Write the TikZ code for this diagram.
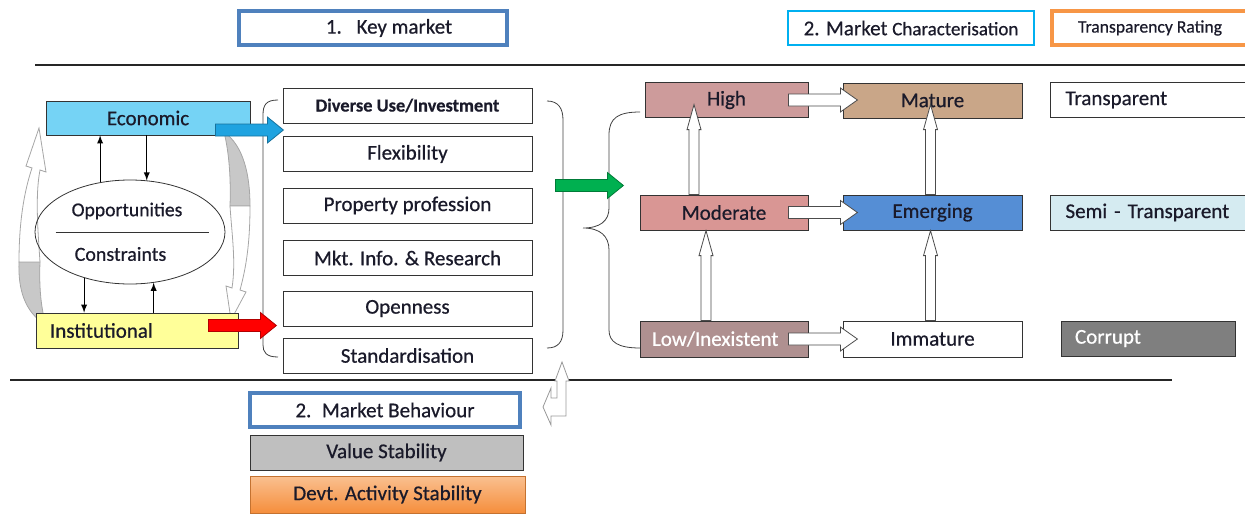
\documentclass[tikz,border=0pt]{standalone}
\usepackage{fontspec}
\setmainfont{Carlito}[FakeBold=0.6]
\usetikzlibrary{shapes.geometric}

\definecolor{keyblue}{HTML}{4F81BD}
\definecolor{charcyan}{HTML}{00B0F0}
\definecolor{rateorange}{HTML}{F79646}
\definecolor{ecofill}{HTML}{75D3F5}
\definecolor{instfill}{HTML}{FFFF99}
\definecolor{highfill}{HTML}{CD9B9B}
\definecolor{maturefill}{HTML}{C9A688}
\definecolor{modfill}{HTML}{D99694}
\definecolor{emergfill}{HTML}{558ED5}
\definecolor{lowfill}{HTML}{AF9090}
\definecolor{semifill}{HTML}{D5EBF1}
\definecolor{corrfill}{HTML}{7F7F7F}
\definecolor{valfill}{HTML}{BFBFBF}
\definecolor{devttop}{HTML}{FAC090}
\definecolor{devtbot}{HTML}{F58E3C}
\definecolor{ribbon}{HTML}{C8C8C8}
\definecolor{arrblue}{HTML}{1FA3E0}
\definecolor{arrgreen}{HTML}{00B050}
\definecolor{ink}{HTML}{1A1A2A}

\tikzset{
  base/.style={draw=black!80, inner sep=0pt, minimum height=17.5pt, text=ink, font=\fontsize{10.5}{12}\selectfont},
  item/.style={base, minimum width=124.5pt},
  cell/.style={base, minimum width=89.5pt},
  rate/.style={base, text width=84.5pt, inner xsep=7.5pt, align=left},
  headbox/.style={draw=keyblue, line width=2pt, minimum height=17pt, inner sep=0pt, text=ink, font=\fontsize{10.5}{12}\selectfont},
  fatarrow/.pic={\path [pic actions] (0,-6) -- (52,-6) -- (52,-13) -- (68,0) -- (52,13) -- (52,6) -- (0,6) -- cycle;},
  hollowr/.pic={\path [pic actions] (0,-6) -- (52,-6) -- (52,-12) -- (69,0) -- (52,12) -- (52,6) -- (0,6) -- cycle;},
  hollowu/.pic={\path [pic actions] (-5,0) -- (-5,-65) -- (-7,-65) -- (0,-90) -- (7,-65) -- (5,-65) -- (5,0) -- cycle;},
}

\begin{document}
\begin{tikzpicture}[x=0.5pt,y=-0.5pt,>=latex]
    \useasboundingbox (0,0) rectangle (1245,514);
    % headings
    \node [headbox, minimum width=134pt] (key) at (373,28) {\hspace*{16pt}1.\hspace{0.7em}Key market};
    \node [headbox, draw=charcyan, line width=1pt, minimum width=123pt] (char) at (911,28) {2. Market {\fontsize{9.5}{11}\selectfont Characterisation}};
    \node [headbox, draw=rateorange, minimum width=98pt, font=\fontsize{8.8}{10}\selectfont] (rating) at (1150,28) {Transparency Rating};
    \draw [black!85, line width=1pt] (35,65) -- (1245,65);
    \draw [black!85, line width=1pt] (10,380) -- (1172,380);

    % curved ribbons
    \draw [gray!70, fill=ribbon] (46,325) .. controls (24,312) and (18,288) .. (19,262) -- (40,262) .. controls (39,288) and (41,308) .. (46,325) -- cycle;
    \draw [gray!70, fill=white] (19,262) .. controls (19,222) and (24,192) .. (32,168) -- (26,166) -- (39,128) -- (46,172) -- (40,170) .. controls (35,196) and (38,232) .. (40,262) -- cycle;
    \draw [gray!70, fill=ribbon] (224,132) .. controls (244,146) and (250,176) .. (250,206) -- (230,206) .. controls (231,178) and (229,152) .. (224,132) -- cycle;
    \draw [gray!70, fill=white] (250,206) .. controls (250,244) and (246,268) .. (240,290) -- (246,292) -- (231,320) -- (226,286) -- (232,288) .. controls (236,262) and (232,236) .. (230,206) -- cycle;

    % key market drivers
    \node [base, fill=ecofill, minimum width=102pt, minimum height=17pt] (eco) at (148,118) {Economic};
    \node [base, fill=instfill, text width=87pt, inner xsep=7pt, align=left] (inst) at (137,330.5) {Institutional};
    \node [draw=black!80, ellipse, minimum width=95pt, minimum height=52pt] (ell) at (130,232) {};
    \node [text=ink, font=\fontsize{9.8}{11}\selectfont] (opp) at (127,211) {Opportunities};
    \node [text=ink, font=\fontsize{10}{11}\selectfont] (con) at (120.5,254) {Constraints};
    \draw [black!80] ([xshift=10.5pt]ell.west) -- ([xshift=-8pt]ell.east);
    \draw [->] (ell.121) -- (ell.121 |- eco.south);
    \draw [->] (eco.south -| ell.72) -- (ell.72);
    \draw [->] (ell.225) -- (ell.225 |- inst.north);
    \draw [->] (inst.north -| ell.295) -- (ell.295);

    \node [item, font=\fontsize{9.2}{11}\selectfont\bfseries] (d1) at (407.5,105.5) {Diverse Use/Investment};
    \node [item] (d2) at (407.5,154) {Flexibility};
    \node [item] (d3) at (407.5,205.5) {Property profession};
    \node [item] (d4) at (407.5,258) {Mkt. Info. \& Research};
    \node [item] (d5) at (407.5,308.5) {Openness};
    \node [item] (d6) at (407.5,355.5) {Standardisation};

    % brackets
    \draw [black!75] (278,100) .. controls (266,100) and (263,105) .. (263,115) -- (263,345) .. controls (263,352) and (266,357) .. (278,357);
    \draw [black!75] (547,101) .. controls (558,101) and (563,108) .. (563,120) -- (563,330) .. controls (563,342) and (558,348) .. (547,348);
    \draw [black!75] (640,112) .. controls (618,112) and (609,118) .. (609,135) -- (609,208) .. controls (609,221) and (600,228) .. (583,228) .. controls (600,228) and (609,236) .. (609,250) -- (609,330) .. controls (609,342) and (618,348) .. (640,348);

    \pic [fill=arrblue, draw=arrblue!70!black] at ([shift={(-35,12)}]eco.east) {fatarrow};
    \pic [fill=red, draw=red!70!black] at ([shift={(-30,-5)}]inst.east) {fatarrow};
    \pic [fill=arrgreen, draw=arrgreen!70!black] at ([shift={(23,-20)}]d3.east) {fatarrow};

    % market characterisation
    \node [base, fill=highfill, minimum width=81.5pt] (high) at (726.5,100) {High};
    \node [cell, fill=maturefill] (mature) at (932.5,100.5) {Mature};
    \node [base, fill=modfill, minimum width=84pt] (mod) at (724,212.5) {Moderate};
    \node [cell, fill=emergfill] (emerg) at (932.5,212.5) {Emerging};
    \node [base, fill=lowfill, text width=72pt, inner xsep=6pt, align=left, minimum height=18pt, text=white] (low) at (724,339) {Low/Inexistent};
    \node [cell, minimum height=18pt] (imm) at (932.5,339) {Immature};

    \pic [fill=white, draw=black!70] at ([xshift=-10pt]high.east) {hollowr};
    \pic [fill=white, draw=black!70] at ([xshift=-10pt]mod.east) {hollowr};
    \pic [fill=white, draw=black!70] at ([xshift=-10pt]low.east) {hollowr};
    \pic [fill=white, draw=black!70] at ([xshift=-15pt]mod.north) {hollowu};
    \pic [fill=white, draw=black!70] at ([xshift=-9pt]low.north) {hollowu};
    \pic [fill=white, draw=black!70] at ([xshift=-1pt]imm.north) {hollowu};
    \pic [fill=white, draw=black!70] at ([xshift=-1pt]emerg.north) {hollowu};

    % transparency rating
    \node [rate] (transp) at (1150,100) {Transparent};
    \node [rate, fill=semifill] (semi) at (1150,212.5) {Semi - Transparent};
    \node [base, fill=corrfill, text=white, text width=73pt, inner xsep=7pt, align=left] (corr) at (1148,338.5) {Corrupt};

    % market behaviour
    \node [headbox, minimum width=135pt] (beh) at (385,410) {2.\hspace{0.5em}Market Behaviour};
    \node [base, fill=valfill, minimum width=136.5pt] (val) at (386.5,452.5) {Value Stability};
    \node [base, draw=devtbot!80!black, top color=devttop, bottom color=devtbot, minimum width=137.5pt, minimum height=18.5pt] (devt) at (387.5,494.5) {Devt. Activity Stability};

    \draw [gray!80, fill=white] (562,362) -- (569,381) -- (566,381) -- (566,416) -- (551,416) -- (551,425) -- (543,407) -- (551,388) -- (551,398) -- (557,398) -- (557,381) -- (555,381) -- cycle;
\end{tikzpicture}
\end{document}
